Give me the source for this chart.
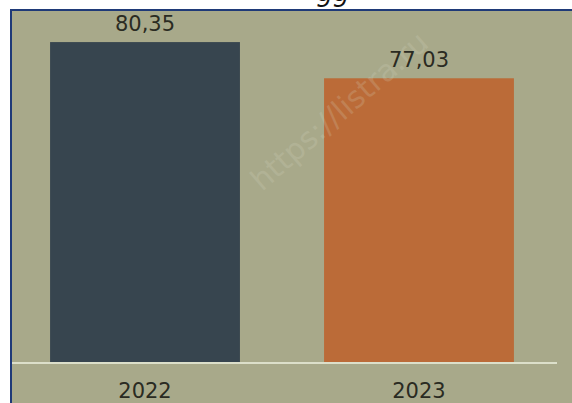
<!DOCTYPE html>
<html>
<head>
<meta charset="utf-8">
<script src="https://cdn.jsdelivr.net/npm/d3@7"></script>
<style>
  body { margin: 0; background: #fff; }
  svg { display: block; }
</style>
</head>
<body>
<div id="chart"></div>
<script>
// data
let years = ['2022', '2023']
let values = [80.35, 77.03]
let colors = ['#37454f', '#bb6b38']

let width = 572
let height = 403

let svg = d3
  .select('#chart')
  .append('svg')
  .attr('width', width)
  .attr('height', height)

// cut off title above the frame
svg
  .append('text')
  .text('gg')
  .attr('x', 333)
  .attr('y', 1)
  .attr('text-anchor', 'middle')
  .attr('font-family', 'DejaVu Sans')
  .attr('font-style', 'italic')
  .attr('font-size', 26)
  .attr('fill', '#111')

// frame
svg
  .append('rect')
  .attr('x', 11)
  .attr('y', 10)
  .attr('width', width + 20)
  .attr('height', height + 20)
  .attr('fill', '#a8a98a')
  .attr('stroke', '#1f3a78')
  .attr('stroke-width', 2)

svg
  .append('clipPath')
  .attr('id', 'plot-clip')
  .append('rect')
  .attr('x', 12)
  .attr('y', 11)
  .attr('width', width)
  .attr('height', height)

let xPositionScale = d3
  .scaleBand()
  .domain(years)
  .range([12, 552])
  .paddingInner(0.307)
  .paddingOuter(0.139)

let yPositionScale = d3
  .scaleLinear()
  .domain([51, 81])
  .range([362, 35])

let fmt = d3.formatLocale({ decimal: ',', thousands: ' ', grouping: [3], currency: ['', ''] }).format('.2f')

let rows = years.map((y, i) => ({ year: y, value: values[i], color: colors[i] }))

// bars
svg
  .selectAll('.bar')
  .data(rows)
  .enter()
  .append('rect')
  .attr('class', 'bar')
  .attr('x', d => xPositionScale(d.year))
  .attr('y', d => yPositionScale(d.value))
  .attr('width', xPositionScale.bandwidth())
  .attr('height', d => yPositionScale.range()[0] - yPositionScale(d.value))
  .attr('fill', d => d.color)

// baseline
svg
  .append('line')
  .attr('x1', 12)
  .attr('x2', 557)
  .attr('y1', yPositionScale.range()[0] + 1)
  .attr('y2', yPositionScale.range()[0] + 1)
  .attr('stroke', '#dcdfca')
  .attr('stroke-width', 2)

// watermark
svg
  .append('g')
  .attr('clip-path', 'url(#plot-clip)')
  .append('text')
  .text('https://listra.ru')
  .attr('font-family', 'DejaVu Sans')
  .attr('font-size', 30)
  .attr('fill', '#d8d8c4')
  .attr('opacity', 0.2)
  .attr('transform', 'translate(262, 192) rotate(-41)')

// value labels
svg
  .selectAll('.value')
  .data(rows)
  .enter()
  .append('text')
  .attr('class', 'value')
  .text(d => fmt(d.value))
  .attr('x', d => xPositionScale(d.year) + xPositionScale.bandwidth() / 2)
  .attr('y', d => yPositionScale(d.value) - 11)
  .attr('text-anchor', 'middle')
  .attr('font-family', 'DejaVu Sans')
  .attr('font-size', 21)
  .attr('fill', '#2a2b22')

// year labels
svg
  .selectAll('.year')
  .data(rows)
  .enter()
  .append('text')
  .attr('class', 'year')
  .text(d => d.year)
  .attr('x', d => xPositionScale(d.year) + xPositionScale.bandwidth() / 2)
  .attr('y', 398)
  .attr('text-anchor', 'middle')
  .attr('font-family', 'DejaVu Sans')
  .attr('font-size', 21)
  .attr('fill', '#2a2b22')
</script>
</body>
</html>
